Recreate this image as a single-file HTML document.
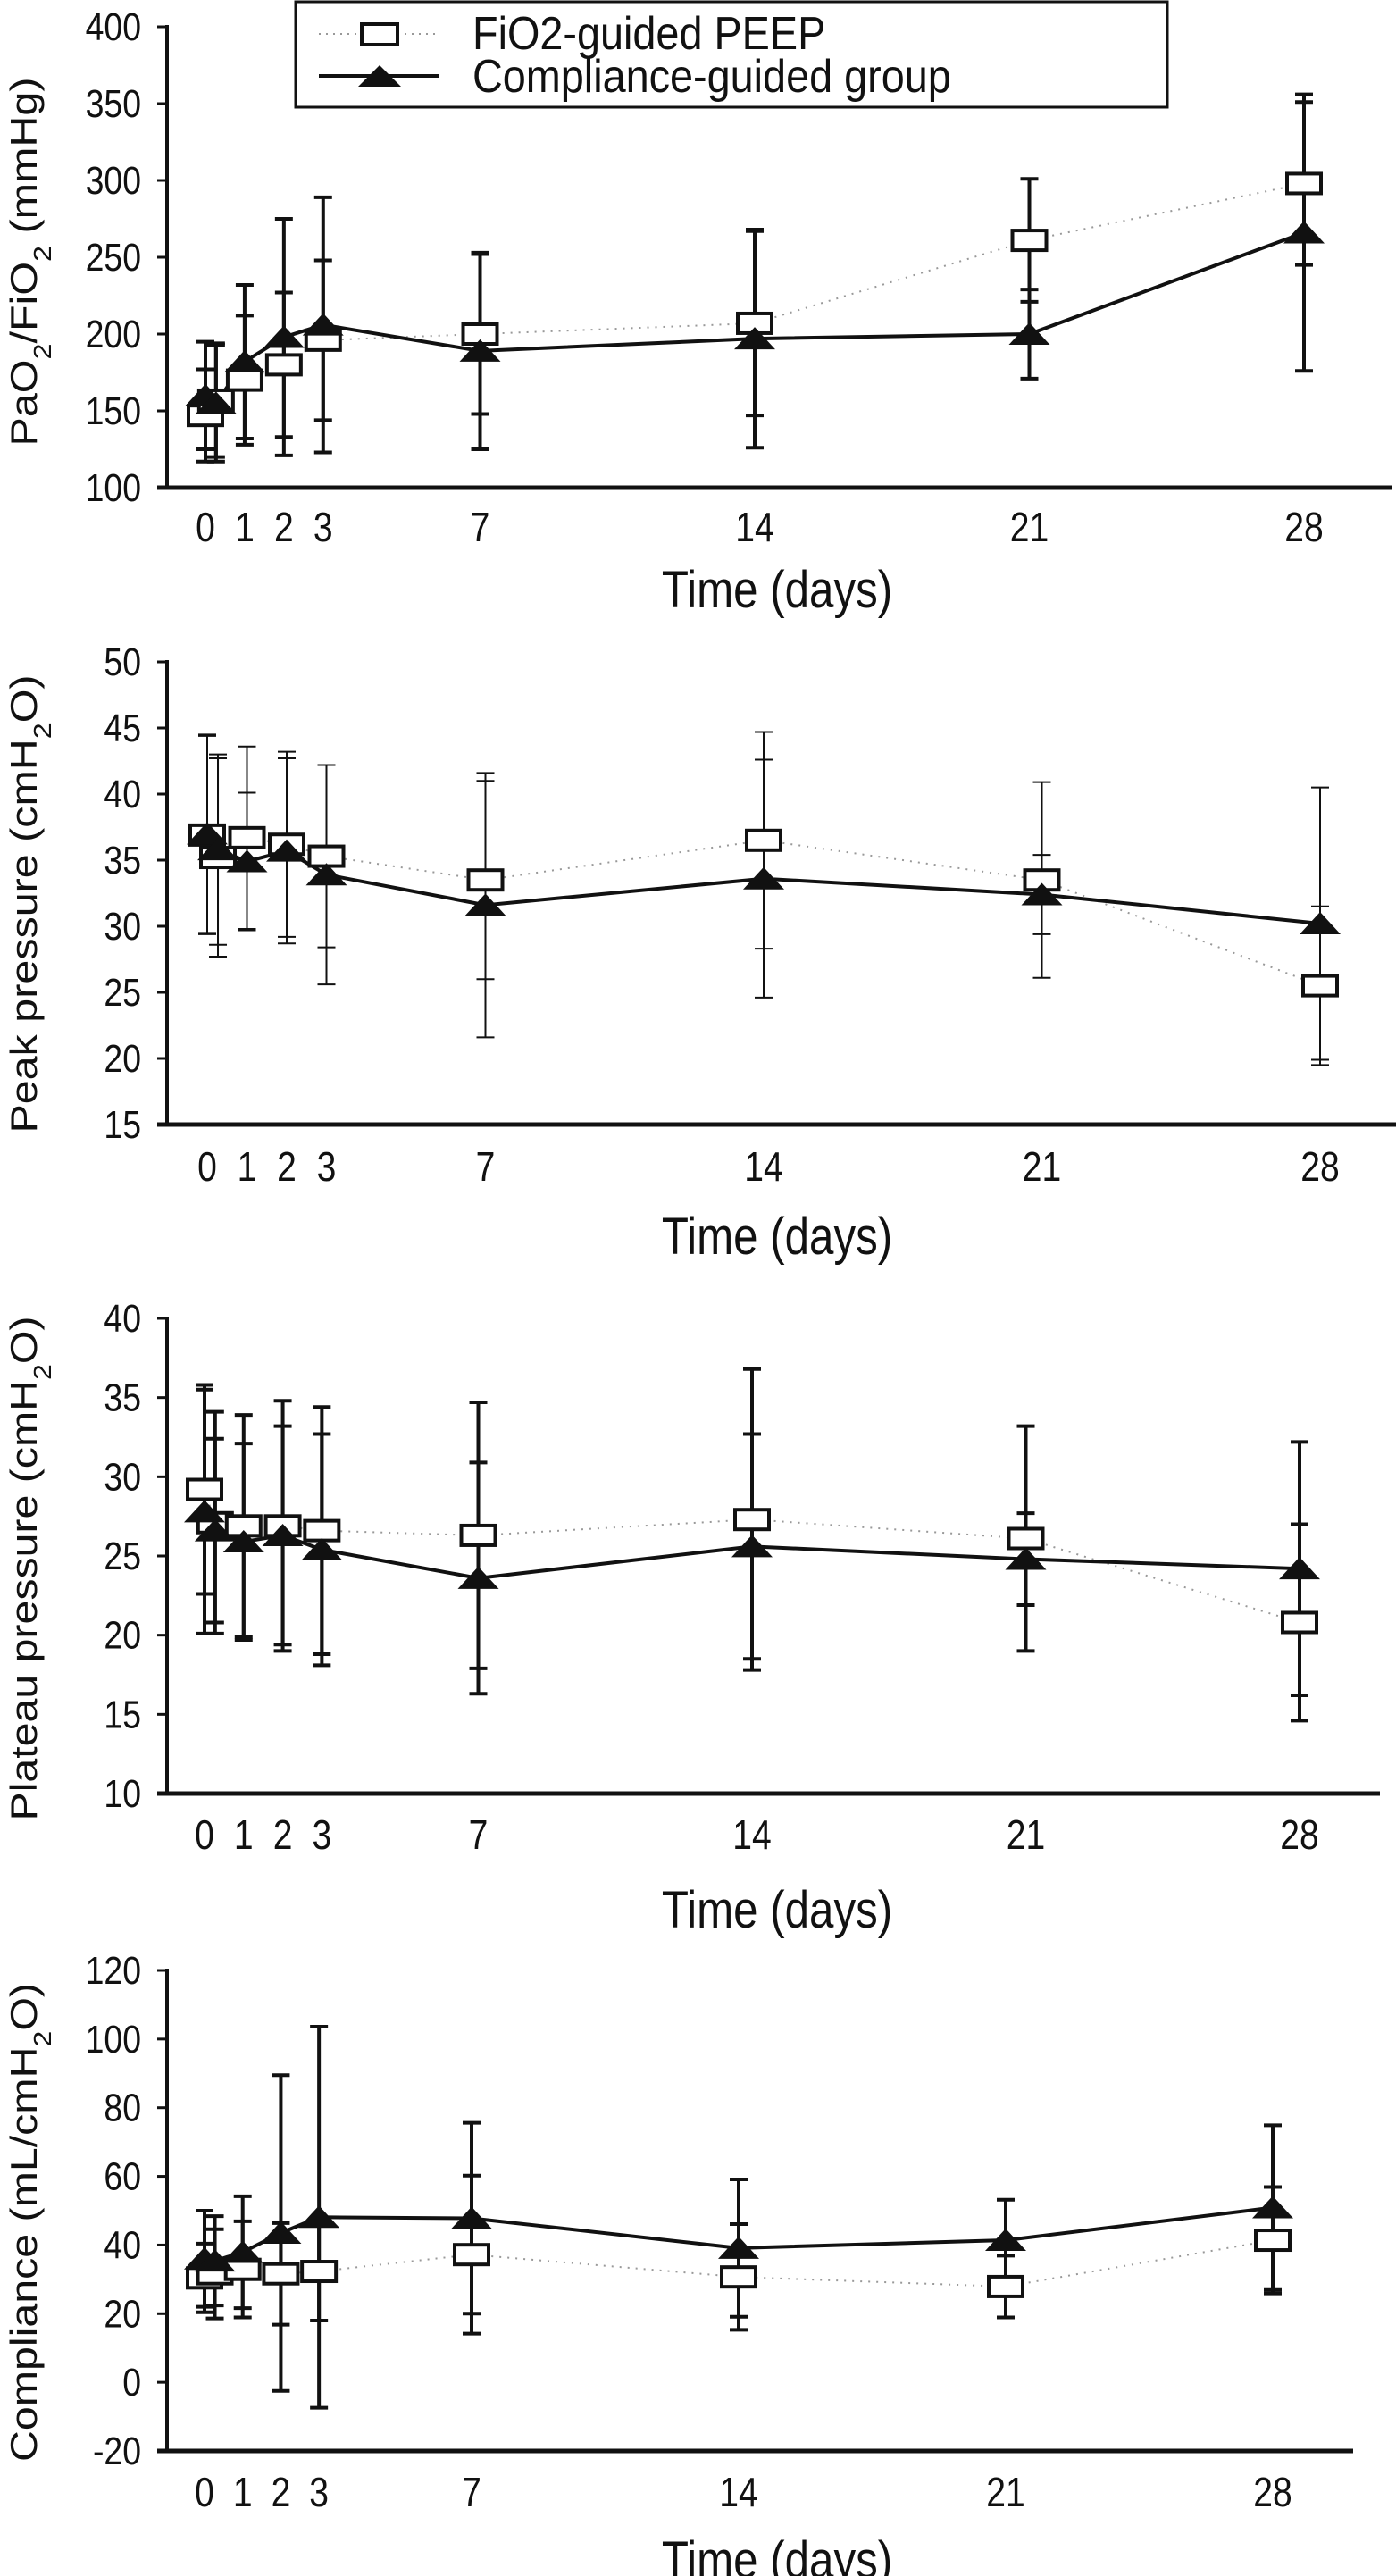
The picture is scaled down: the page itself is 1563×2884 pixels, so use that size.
<!DOCTYPE html>
<html><head><meta charset="utf-8"><style>
html,body{margin:0;padding:0;background:#fff}
svg{display:block}
text{font-family:"Liberation Sans",sans-serif;fill:#111}
</style></head><body>
<svg id="chart" width="1563" height="2884" viewBox="0 0 1563 2884" xmlns="http://www.w3.org/2000/svg">
<g id="legend">
<rect x="331" y="2" width="976" height="118" fill="#fff" stroke="#111" stroke-width="3"/>
<g>
<line x1="357" y1="38" x2="491" y2="38" stroke="#999" stroke-width="2" stroke-dasharray="2,6"/>
<rect x="405" y="27" width="40" height="23" fill="#fff" stroke="#111" stroke-width="4"/>
<text transform="translate(529,55) scale(0.9,1)" font-size="52">FiO2-guided PEEP</text></g>
<g>
<line x1="357" y1="85" x2="491" y2="85" stroke="#111" stroke-width="4"/>
<polygon points="401,97 449,97 425,73" fill="#111"/>
<text transform="translate(529,103) scale(0.9,1)" font-size="52">Compliance-guided group</text></g>
</g>
</svg>
<script>
const days=[0,0.27,1,2,3,7,14,21,28];
const tickDays=[0,1,2,3,7,14,21,28];
// Panel 1: PaO2/FiO2
const p1Fio2=[147,157,170,180,196,200,207,261,298];
const p1Fio2Sd=[30,37,42,47,52,52,60,40,53];
const p1Comp=[160,155,182,198,206,189,197,200,266];
const p1CompSd=[35,38,50,77,83,64,71,29,90];
const p1Ticks=[100,150,200,250,300,350,400];
// Panel 2: Peak pressure
const p2Fio2=[36.9,35.2,36.7,36.2,35.3,33.5,36.5,33.5,25.5];
const p2Fio2Sd=[7.5,7.5,6.9,7,6.9,7.5,8.2,7.4,6];
const p2Comp=[37.0,35.8,34.9,35.7,33.9,31.6,33.6,32.4,30.2];
const p2CompSd=[7.5,7.2,5.2,7,8.3,10,9,3,10.3];
const p2Ticks=[15,20,25,30,35,40,45,50];
// Panel 3: Plateau pressure
const p3Fio2=[29.2,27.1,26.9,26.9,26.6,26.3,27.3,26.1,20.8];
const p3Fio2Sd=[6.6,7,7,7.9,7.8,8.4,9.5,7.1,6.2];
const p3Comp=[27.8,26.6,25.9,26.3,25.4,23.6,25.6,24.8,24.2];
const p3CompSd=[7.7,5.8,6.2,6.9,7.3,7.3,7.1,2.9,8];
const p3Ticks=[10,15,20,25,30,35,40];
// Panel 4: Compliance
const p4Fio2=[30.4,31.6,32.9,31.6,32.3,37.2,30.7,27.9,41.4];
const p4Fio2Sd=[10,13,14,14.8,14.3,23,15.4,9,15.5];
const p4Comp=[36.0,35.4,37.9,43.5,48.1,47.8,39.1,41.4,50.9];
const p4CompSd=[14,13,16.3,46,55.5,27.8,20,11.8,24];
const p4Ticks=[-20,0,20,40,60,80,100,120];

const NS='http://www.w3.org/2000/svg';
const svg=document.getElementById('chart');
function mk(tag,attrs,parent){const e=document.createElementNS(NS,tag);for(const k in attrs)e.setAttribute(k,attrs[k]);(parent||svg).appendChild(e);return e;}

const panels=[
 {key:'pao2',fio2:p1Fio2,fsd:p1Fio2Sd,comp:p1Comp,csd:p1CompSd,ticks:p1Ticks,ymin:100,ymax:400,yTop:30,yBot:546,x0:230,x28:1460,axR:1558,tickY:590,titleY:662,yl:'PaO2/FiO2 (mmHg)',ylc:293,yll:413},
 {key:'peak',fio2:p2Fio2,fsd:p2Fio2Sd,comp:p2Comp,csd:p2CompSd,ticks:p2Ticks,ymin:15,ymax:50,yTop:741,yBot:1259,x0:232,x28:1478,axR:1563,tickY:1306,titleY:1386,yl:'Peak pressure (cmH2O)',ylc:1012,yll:513},
 {key:'plateau',fio2:p3Fio2,fsd:p3Fio2Sd,comp:p3Comp,csd:p3CompSd,ticks:p3Ticks,ymin:10,ymax:40,yTop:1476,yBot:2008,x0:229,x28:1455,axR:1545,tickY:2054,titleY:2140,yl:'Plateau pressure (cmH2O)',ylc:1756,yll:565},
 {key:'compliance',fio2:p4Fio2,fsd:p4Fio2Sd,comp:p4Comp,csd:p4CompSd,ticks:p4Ticks,ymin:-20,ymax:120,yTop:2206,yBot:2744,x0:229,x28:1425,axR:1515,tickY:2790,titleY:2868,yl:'Compliance (mL/cmH2O)',ylc:2488,yll:536}
];
const bw=[4,2,4,4];

panels.forEach((p,pi)=>{
 const g=mk('g',{});
 
 
 const xs=d=>p.x0+(p.x28-p.x0)*d/28;
 const ys=v=>p.yBot-(v-p.ymin)/(p.ymax-p.ymin)*(p.yBot-p.yTop);
 const axX=187;
 const ya=mk('line',{x1:axX,y1:p.yTop-2,x2:axX,y2:p.yBot,stroke:'#111','stroke-width':4},g);
 
 
 const xa=mk('line',{x1:176,y1:p.yBot,x2:p.axR,y2:p.yBot,stroke:'#111','stroke-width':5},g);
 
 
 p.ticks.forEach(t=>{
  mk('line',{x1:176,y1:ys(t),x2:axX,y2:ys(t),stroke:'#111','stroke-width':3},g);
  const tx=mk('text',{transform:`translate(158,${ys(t)+15}) scale(0.85,1)`,'font-size':44,'text-anchor':'end'},g);
  tx.textContent=t;
  
  
 });
 tickDays.forEach(d=>{
  const tx=mk('text',{transform:`translate(${xs(d)},${p.tickY+16}) scale(0.85,1)`,'font-size':46,'text-anchor':'middle'},g);
  tx.textContent=d;
  
  
 });
 const tt=mk('text',{transform:`translate(870,${p.titleY+18}) scale(0.85,1)`,'font-size':58,'text-anchor':'middle'},g);
 tt.textContent='Time (days)';
 
 
 const yl=mk('text',{x:0,y:0,'font-size':42,'text-anchor':'middle',transform:'translate(41,'+p.ylc+') rotate(-90)',textLength:p.yll,lengthAdjust:'spacingAndGlyphs'},g);
 
 
 const parts=p.yl.split('2');
 parts.forEach((s,i)=>{
  const a=mk('tspan',{},yl);a.textContent=s;
  if(i<parts.length-1){const b=mk('tspan',{'baseline-shift':'sub','font-size':28},yl);b.textContent='2';}
 });
 const bars=(vals,sd,nm)=>vals.forEach((v,i)=>{
  const x=xs(days[i]),y1=ys(v+sd[i]),y2=ys(v-sd[i]);
  const e=mk('path',{d:`M${x},${y1}V${y2}M${x-10},${y1}H${x+10}M${x-10},${y2}H${x+10}`,stroke:'#111','stroke-width':bw[pi],fill:'none'},g);
  
  
 });
 bars(p.fio2,p.fsd,'fio2');
 bars(p.comp,p.csd,'compliance');
 const l1=mk('polyline',{points:p.fio2.map((v,i)=>xs(days[i])+','+ys(v)).join(' '),fill:'none',stroke:'#999','stroke-width':2,'stroke-dasharray':'2,7'},g);
 
 
 const l2=mk('polyline',{points:p.comp.map((v,i)=>xs(days[i])+','+ys(v)).join(' '),fill:'none',stroke:'#111','stroke-width':4},g);
 
 
 p.fio2.forEach((v,i)=>{
  const r=mk('rect',{x:xs(days[i])-19,y:ys(v)-11,width:38,height:22,fill:'#fff',stroke:'#111','stroke-width':4},g);
  
  
 });
 p.comp.forEach((v,i)=>{
  const x=xs(days[i]),y=ys(v);
  const t=mk('polygon',{points:`${x-23},${y+12} ${x+23},${y+12} ${x},${y-13}`,fill:'#111'},g);
  
  
 });
});
svg.appendChild(document.getElementById('legend'));
</script>
</body></html>
